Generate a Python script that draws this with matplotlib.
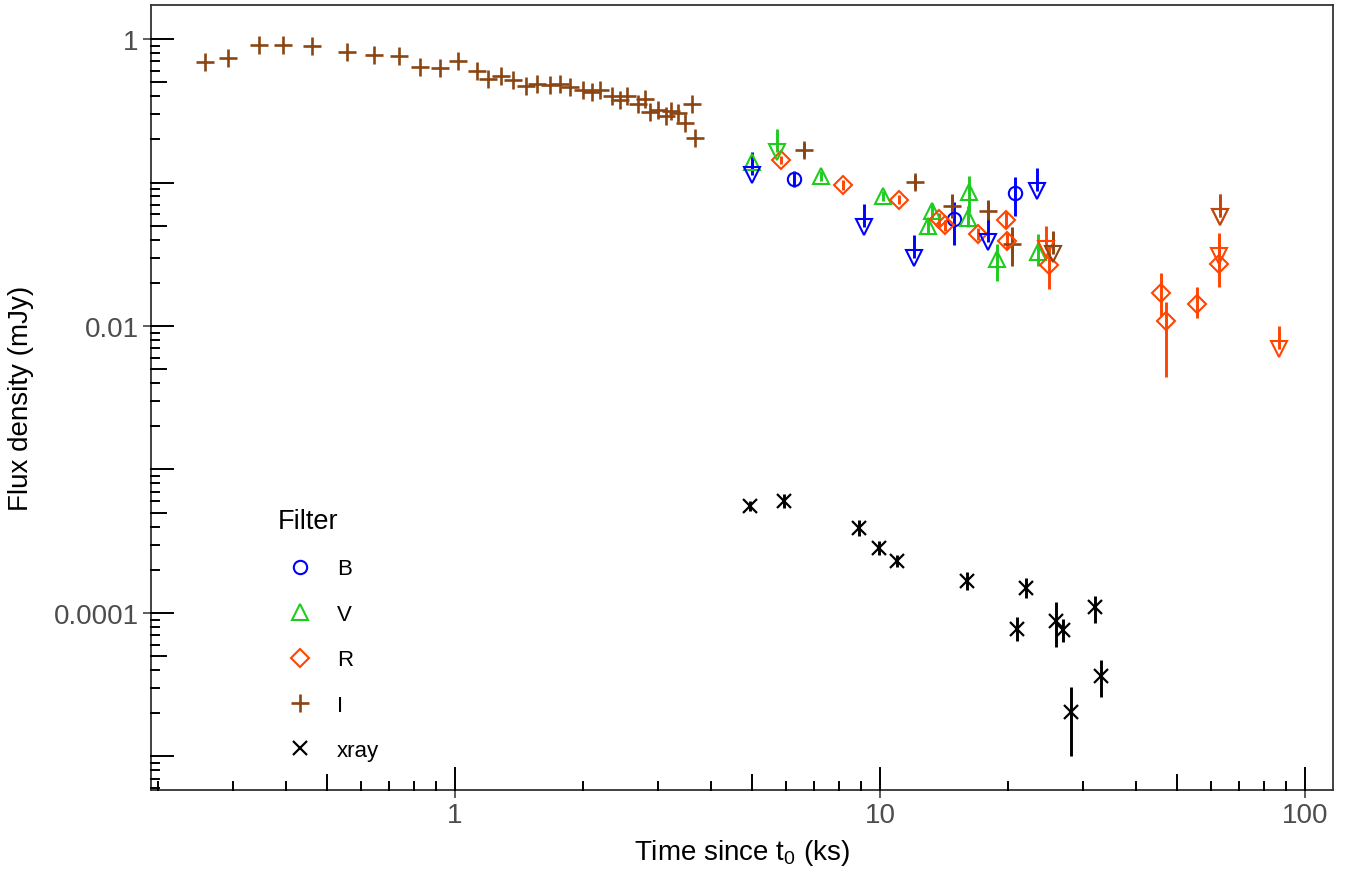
import numpy as np
import matplotlib
matplotlib.use("Agg")
import matplotlib.pyplot as plt
from matplotlib.lines import Line2D
from matplotlib.ticker import NullLocator, FixedLocator, FixedFormatter

plt.rcParams['font.family'] = ['Liberation Sans', 'DejaVu Sans']
plt.rcParams['mathtext.fontset'] = 'custom'
plt.rcParams['mathtext.rm'] = 'Liberation Sans'
plt.rcParams['mathtext.it'] = 'Liberation Sans:italic'

# ---- data (time in ks, flux density in mJy) ----
# I band, early dense light curve
i_t = [0.258, 0.292, 0.346, 0.394, 0.461, 0.557, 0.644, 0.738, 0.829, 0.922,
       1.018, 1.125, 1.198, 1.281, 1.371, 1.469, 1.562, 1.673, 1.766, 1.865,
       1.998, 2.097, 2.194, 2.337, 2.445, 2.543, 2.700, 2.799, 2.875, 3.009,
       3.136, 3.218, 3.353, 3.477, 3.604, 3.670]
i_f = [0.688, 0.737, 0.908, 0.908, 0.889, 0.816, 0.774, 0.765, 0.641, 0.628,
       0.699, 0.596, 0.527, 0.550, 0.515, 0.470, 0.488, 0.478, 0.488, 0.465,
       0.439, 0.429, 0.439, 0.403, 0.376, 0.403, 0.352, 0.382, 0.308, 0.322,
       0.289, 0.316, 0.305, 0.260, 0.352, 0.203]
# I band, later points with error bars
i2_t = [6.64, 12.1, 14.8, 17.98, 20.5]
i2_f = [0.169, 0.1003, 0.0683, 0.063, 0.0373]
i2_lo = [0.151, 0.090, 0.0565, 0.052, 0.0263]
i2_hi = [0.189, 0.112, 0.0826, 0.076, 0.049]
i_ul_t = [25.5, 63.1]
i_ul_f = [0.0318, 0.0572]

b_t = [6.29, 14.96, 20.8]
b_f = [0.1058, 0.0557, 0.0841]
b_lo = [0.093, 0.0367, 0.0584]
b_hi = [0.120, 0.0731, 0.1092]
b_ul_t = [5.01, 9.17, 12.04, 17.98, 23.4]
b_ul_f = [0.112, 0.0492, 0.0298, 0.0383, 0.0868]

v_t = [5.01, 7.26, 10.15, 13.23, 13.0, 16.23, 16.08, 18.9, 23.6]
v_f = [0.138, 0.1105, 0.080, 0.0636, 0.050, 0.0855, 0.0563, 0.0293, 0.0326]
v_lo = [0.124, 0.102, 0.074, 0.056, 0.044, 0.062, 0.0487, 0.0207, 0.0263]
v_hi = [0.152, 0.120, 0.087, 0.0722, 0.057, 0.1115, 0.0689, 0.0373, 0.0438]
v_ul_t = [5.71]
v_ul_f = [0.162]

r_t = [5.84, 8.20, 11.08, 13.8, 14.2, 17.03, 19.8, 19.94, 25.0, 45.8, 47.1, 55.8, 62.8]
r_f = [0.144, 0.096, 0.0759, 0.0555, 0.0505, 0.0438, 0.0548, 0.0393, 0.0266,
       0.01698, 0.01078, 0.01423, 0.0270]
r_lo = [0.135, 0.089, 0.0703, 0.050, 0.046, 0.040, 0.048, 0.0345, 0.0181,
        0.0118, 0.00443, 0.01137, 0.0187]
r_hi = [0.153, 0.104, 0.082, 0.061, 0.055, 0.048, 0.062, 0.0448, 0.0363,
        0.0234, 0.0147, 0.0187, 0.0426]
r_ul_t = [24.6, 62.8, 87.0]
r_ul_f = [0.0344, 0.0306, 0.00691]
# R limit sitting on top of the I limit at ~63 ks
r_ul2_t = [63.1]
r_ul2_f = [0.0572]

x_t = [4.94, 5.94, 8.94, 9.95, 10.96, 16.0, 22.06, 20.97, 26.0, 27.0, 32.05, 33.1, 28.1]
x_f = [5.6e-4, 6.0e-4, 3.91e-4, 2.84e-4, 2.29e-4, 1.66e-4, 1.49e-4, 7.74e-5,
       8.84e-5, 7.6e-5, 1.096e-4, 3.66e-5, 2.03e-5]
x_lo = [5.17e-4, 5.36e-4, 3.44e-4, 2.54e-4, 2.08e-4, 1.44e-4, 1.27e-4, 6.39e-5,
        5.8e-5, 6.25e-5, 8.48e-5, 2.61e-5, 1.01e-5]
x_hi = [6.07e-4, 6.7e-4, 4.45e-4, 3.18e-4, 2.52e-4, 1.92e-4, 1.75e-4, 9.38e-5,
        1.19e-4, 9.08e-5, 1.32e-4, 4.73e-5, 3.05e-5]

filters = ['B', 'V', 'R', 'I', 'xray']
colors = {'B': '#0000FF', 'V': '#1ECC1E', 'R': '#FF4500', 'I': '#8B4513', 'xray': '#000000'}
markers = {'B': 'o', 'V': '^', 'R': 'D', 'I': '+', 'xray': 'x'}
msizes = {'B': 9.6, 'V': 12, 'R': 9.5, 'I': 13.5, 'xray': 9.5}
mews = {'B': 1.5, 'V': 1.5, 'R': 1.5, 'I': 1.9, 'xray': 1.6}

x_ticks = [1, 10, 100]
x_ticklabels = ['1', '10', '100']
y_ticks = [1, 0.01, 0.0001]
y_ticklabels = ['1', '0.01', '0.0001']

W, H = 1349, 870
L, R, T, B = 151, 1333, 6, 791
mew = 1.5
elw = 2.1
ul_factor = 1.45


def errbar(ax, t, f, lo, hi, c):
    ax.vlines(t, lo, hi, colors=c, linewidth=elw, zorder=2)


def points(ax, t, f, name):
    c = colors[name]
    ax.plot(t, f, linestyle='none', marker=markers[name], markersize=msizes[name],
            markerfacecolor='none', markeredgecolor=c, markeredgewidth=mews[name], zorder=3)


def upper_limits(ax, t, f, c, alpha=1.0):
    f = np.array(f)
    ax.vlines(t, f, f * ul_factor, colors=c, linewidth=elw, zorder=2, alpha=alpha)
    ax.plot(t, f, linestyle='none', marker='v', markersize=12,
            markerfacecolor='none', markeredgecolor=c, markeredgewidth=mew,
            zorder=3, alpha=alpha)


def log_ticks(ax):
    aw = (R - L)
    ah = (B - T)
    for d in range(-7, 3):
        for k in range(1, 10):
            v = k * 10.0 ** d
            ln = 22 if k == 1 else (15 if k == 5 else 8)
            lw = 1.4
            if 0.1926 < v < 116:
                ax.plot([v, v], [0, ln / ah], color='black', linewidth=lw,
                        transform=ax.get_xaxis_transform(), clip_on=False, zorder=4)
            if 5.84e-6 < v < 1.72:
                ax.plot([0, ln / aw], [v, v], color='black', linewidth=lw,
                        transform=ax.get_yaxis_transform(), clip_on=False, zorder=4)


fig = plt.figure(figsize=(W / 100, H / 100), dpi=100)
ax = fig.add_axes([L / W, (H - B) / H, (R - L) / W, (B - T) / H])
ax.set_xscale('log')
ax.set_yscale('log')

# error bars / arrows first, then the symbols
errbar(ax, b_t, b_f, b_lo, b_hi, colors['B'])
errbar(ax, v_t, v_f, v_lo, v_hi, colors['V'])
errbar(ax, r_t, r_f, r_lo, r_hi, colors['R'])
errbar(ax, i2_t, i2_f, i2_lo, i2_hi, colors['I'])
errbar(ax, x_t, x_f, x_lo, x_hi, colors['xray'])

points(ax, i_t, i_f, 'I')
points(ax, i2_t, i2_f, 'I')
points(ax, b_t, b_f, 'B')
points(ax, v_t, v_f, 'V')
points(ax, r_t, r_f, 'R')
points(ax, x_t, x_f, 'xray')

upper_limits(ax, b_ul_t, b_ul_f, colors['B'])
upper_limits(ax, v_ul_t, v_ul_f, colors['V'])
upper_limits(ax, r_ul_t, r_ul_f, colors['R'])
upper_limits(ax, i_ul_t, i_ul_f, colors['I'])
upper_limits(ax, r_ul2_t, r_ul2_f, colors['R'], alpha=0.5)

ax.set_xlim(0.1926, 116.4)
ax.set_ylim(5.84e-6, 1.726)

ax.xaxis.set_major_locator(FixedLocator(x_ticks))
ax.xaxis.set_major_formatter(FixedFormatter(x_ticklabels))
ax.yaxis.set_major_locator(FixedLocator(y_ticks))
ax.yaxis.set_major_formatter(FixedFormatter(y_ticklabels))
ax.xaxis.set_minor_locator(NullLocator())
ax.yaxis.set_minor_locator(NullLocator())
ax.tick_params(axis='both', which='major', direction='out', length=5.8, width=1.1,
               color='#333333', labelcolor='#4D4D4D', labelsize=20, pad=3)
log_ticks(ax)

for s in ax.spines.values():
    s.set_color('#333333')
    s.set_linewidth(1.3)

ax.set_xlabel('Time since t$_\\mathrm{0}$ (ks)', fontsize=20, color='black')
ax.set_ylabel('Flux density (mJy)', fontsize=20, color='black')
ax.xaxis.set_label_coords(0.5, -(838 - B) / (B - T))
ax.yaxis.set_label_coords(-(151 - 34) / (R - L), 0.5)

handles = []
for name in filters:
    handles.append(Line2D([], [], linestyle='none', marker=markers[name],
                          markersize=msizes[name], markerfacecolor='none',
                          markeredgecolor=colors[name], markeredgewidth=mews[name]))
leg = ax.legend(handles, filters, title='Filter', loc='upper left',
                bbox_to_anchor=(278 / W, 1 - 509 / H), bbox_transform=fig.transFigure,
                frameon=False, fontsize=16, title_fontsize=19.5, borderpad=0,
                borderaxespad=0, handlelength=2, handletextpad=0.64,
                labelspacing=1.1, alignment='left')

fig.savefig('out.png', dpi=100)
